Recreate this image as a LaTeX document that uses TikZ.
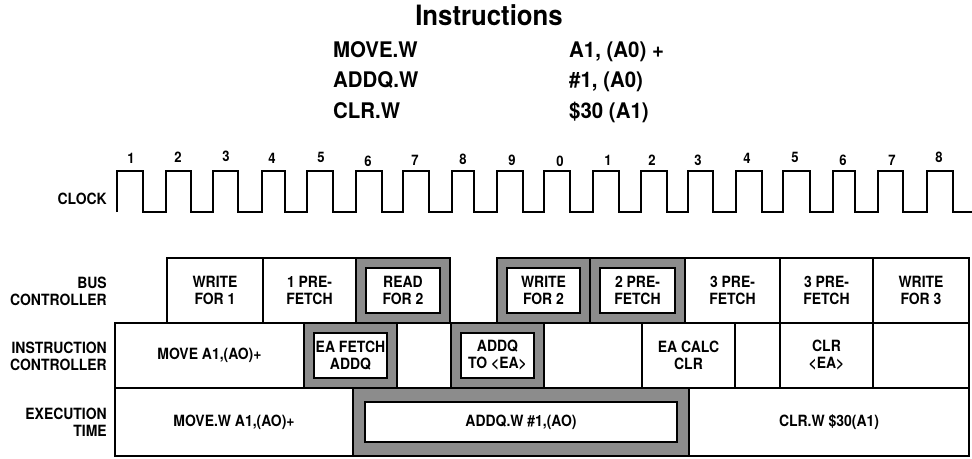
\documentclass[tikz,border=0pt]{standalone}
\usepackage{fontspec}
\newfontfamily\hv[FakeStretch=0.9]{TeX Gyre Heros}
\newfontfamily\hvI[FakeStretch=0.95]{TeX Gyre Heros}
\newfontfamily\hvT[FakeStretch=0.92]{TeX Gyre Heros}
\newcommand\mkcell[7]{%
  \node[#1, minimum width={#4-#3}, minimum height={#6-#5}] (#2) at ({(#3+#4)/2},{(#5+#6)/2}) {#7};}
\newcommand\mkshade[8]{%
  \mkcell{shadebox}{#1}{#2}{#3}{#4}{#5}{}
  \node[innerbox, minimum width={#3-#2-2*#6}, minimum height={#5-#4-2*#7}] (#1in) at (#1.center) {#8};}
\tikzset{
  boxfont/.style={font=\hv\bfseries\fontsize{15.5}{17}\selectfont},
  cell/.style={draw, line width=2.4pt, fill=white, inner sep=0pt, align=center, boxfont},
  shadebox/.style={draw, line width=2.4pt, fill=black!45, inner sep=0pt},
  innerbox/.style={draw, line width=2.2pt, fill=white, inner sep=0pt, align=center, boxfont},
  rowlabel/.style={anchor=east, align=right, inner sep=0pt, boxfont},
  instr/.style={anchor=base west, inner sep=0pt, font=\hvI\bfseries\fontsize{21.5}{24}\selectfont},
  titlestyle/.style={inner sep=0pt, font=\hvT\bfseries\fontsize{28}{30}\selectfont},
  num/.style={inner sep=0pt, font=\hv\bfseries\fontsize{14.5}{16}\selectfont},
  clk/.style={line width=2.3pt, line join=miter},
}
\begin{document}
\begin{tikzpicture}[x=1pt,y=-1pt]
\useasboundingbox (0,0) rectangle (972,458);
% title and instruction list
\node[titlestyle] (title) at (489,15) {Instructions};
\node[instr] (op1) at (333,57) {MOVE.W};
\node[instr] (op2) at (333,87) {ADDQ.W};
\node[instr] (op3) at (333,118) {CLR.W};
\node[instr] (arg1) at (569,57) {A1, (A0) +};
\node[instr] (arg2) at (569,87) {\#1, (A0)};
\node[instr] (arg3) at (569,118) {\$30 (A1)};
% clock
\node[rowlabel] (clocklbl) at (107,199) {CLOCK};
\draw[clk] (117,212)
  \foreach \r/\f in {117/143,166/191,213/238,262/285,307/333,356/382,403/429,452/474,497/523,544/570,593/619,641/667,688/713,736/762,783/810,833/855,878/903,927/953}
  { -- (\r,212) -- (\r,171) -- (\f,171) -- (\f,212) } -- (972,212);
\foreach \x/\y/\t [count=\i] in {131/158/1,178/157/2,226/156/3,272/158/4,321/157/5,368/161/6,415/160/7,463/159/8,512/160/9,560/161/0,608/160/1,652/160/2,698/160/3,747/158/4,795/157/5,843/160/6,892/160/7,939/157/8}
  \node[num] (n\i) at (\x,\y) {\t};
% row labels
\node[rowlabel] (lbus) at (107,291.5) {BUS\\CONTROLLER};
\node[rowlabel] (linst) at (107,356.5) {INSTRUCTION\\CONTROLLER};
\node[rowlabel] (lexec) at (107,422.5) {EXECUTION\\TIME};
% bus controller row
\mkcell{cell}{b1}{167}{263}{258}{323}{WRITE\\FOR 1}
\mkcell{cell}{b2}{263}{356}{258}{323}{1 PRE-\\FETCH}
\mkshade{b3}{356}{450}{258}{323}{10}{10}{READ\\FOR 2}
\mkshade{b4}{497}{590}{258}{323}{10}{10}{WRITE\\FOR 2}
\mkshade{b5}{590}{685}{258}{323}{10}{10}{2 PRE-\\FETCH}
\mkcell{cell}{b6}{685}{780}{258}{323}{3 PRE-\\FETCH}
\mkcell{cell}{b7}{780}{873}{258}{323}{3 PRE-\\FETCH}
\mkcell{cell}{b8}{873}{969}{258}{323}{WRITE\\FOR 3}
% instruction controller row
\mkcell{cell}{i1}{115}{304}{323}{388}{MOVE A1,(AO)+}
\mkshade{i2}{304}{397}{323}{388}{10}{10}{EA FETCH\\ADDQ}
\mkcell{cell}{i3}{397}{451}{323}{388}{}
\mkshade{i4}{451}{544}{323}{388}{10}{10}{ADDQ\\TO <EA>}
\mkcell{cell}{i5}{544}{642}{323}{388}{}
\mkcell{cell}{i6}{642}{735}{323}{388}{EA CALC\\CLR}
\mkcell{cell}{i7}{735}{780}{323}{388}{}
\mkcell{cell}{i8}{780}{873}{323}{388}{CLR\\<EA>}
\mkcell{cell}{i9}{873}{969}{323}{388}{}
% execution row
\mkcell{cell}{e1}{115}{353}{388}{456}{MOVE.W A1,(AO)+}
\mkshade{e2}{353}{689}{388}{456}{12}{14}{ADDQ.W \#1,(AO)}
\mkcell{cell}{e3}{689}{969}{388}{456}{CLR.W \$30(A1)}
\end{tikzpicture}
\end{document}
